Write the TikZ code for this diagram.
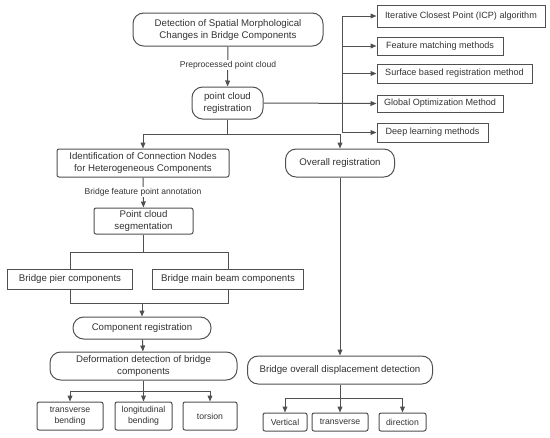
\documentclass[tikz,border=0pt]{standalone}
\usepackage{fontspec}
\setmainfont{Liberation Sans}
\usetikzlibrary{arrows.meta}
\definecolor{lncol}{HTML}{505050}
\definecolor{txcol}{HTML}{333333}
\begin{document}
\begin{tikzpicture}[x=0.75pt,y=-0.75pt,
 every node/.style={text=txcol, font=\fontsize{7.25}{9}\selectfont, inner sep=0pt, align=center},
 bx/.style 2 args={draw=lncol, line width=0.75pt, fill=white, minimum width=#1*0.75pt, minimum height=#2*0.75pt},
 pill/.style={rounded corners=8pt},
 rr/.style={rounded corners=1.5pt},
 sm/.style={font=\fontsize{6.5}{7.9}\selectfont},
 rt/.style={font=\fontsize{6.8}{8}\selectfont},
 lbl/.style={fill=white, font=\fontsize{6.4}{7.5}\selectfont, inner sep=1pt},
 arr/.style={draw=lncol, line width=0.75pt, -{Triangle[length=4.5pt,width=3.6pt]}},
 conn/.style={draw=lncol, line width=0.75pt}]
\useasboundingbox (0,0) rectangle (550,437);

% nodes
\node[bx={190}{33}, pill] (top) at (228,29.5) {Detection of Spatial Morphological\\Changes in Bridge Components};
\node[bx={71}{32}, pill] (pcr) at (227.5,103) {point cloud\\registration};
\node[bx={168}{22}, rt] (icp) at (461,16) {Iterative Closest Point (ICP) algorithm};
\node[bx={126}{18}, rt] (feat) at (440,46) {Feature matching methods};
\node[bx={155}{19}, rt] (surf) at (454.5,73.5) {Surface based registration method};
\node[bx={126}{17}, rt] (glob) at (440,103.5) {Global Optimization Method};
\node[bx={111}{19}, rt] (deep) at (432.5,132.5) {Deep learning methods};
\node[bx={172}{28}, rr] (ident) at (143,163) {Identification of Connection Nodes\\for Heterogeneous Components};
\node[bx={109}{28}, pill] (overall) at (340,163) {Overall registration};
\node[bx={99}{26}, rr] (seg) at (143.5,221) {Point cloud\\segmentation};
\node[bx={125}{20}] (pier) at (70,279) {Bridge pier components};
\node[bx={151}{20}] (beam) at (228,279) {Bridge main beam components};
\node[bx={138}{22}, pill] (compreg) at (142,328) {Component registration};
\node[bx={187}{28}, pill] (deform) at (143.5,366) {Deformation detection of bridge\\components};
\node[bx={66}{28}, rr, sm] (tb) at (70,416) {transverse\\bending};
\node[bx={57}{28}, rr, sm] (lb) at (143.5,416) {longitudinal\\bending};
\node[bx={54}{28}, rr, sm] (tor) at (210,416) {torsion};
\node[bx={185}{28}, pill] (bodd) at (340,370) {Bridge overall displacement detection};
\node[bx={44}{18}, rr, sm] (vert) at (285,422) {Vertical};
\node[bx={56}{18}, rr, sm] (trans) at (340,422) {transverse};
\node[bx={47}{18}, rr, sm] (dir) at (402.5,422) {direction};

% junction coordinates
\coordinate (j1) at (227.5,134);
\coordinate (bt) at (342,16);
\coordinate (bb) at (342,132.5);
\coordinate (j2) at (143.5,252);
\coordinate (j3a) at (70,303);
\coordinate (j3b) at (228,303);
\coordinate (j3) at (142,303);
\coordinate (j4) at (143.5,391);
\coordinate (j5) at (340,398);

% connectors
\draw[arr] (top) -- (pcr);
\node[lbl] (l1) at (228,65) {Preprocessed point cloud};
\draw[conn] (pcr) -- (j1);
\draw[arr] (j1) -| (ident.north);
\draw[arr] (j1) -| (overall.north);
\draw[arr] (pcr.east) -- (glob.west);
\draw[conn] (bt) -- (bb);
\draw[arr] (bt) -- (icp.west);
\draw[arr] (bt |- feat.west) -- (feat.west);
\draw[arr] (bt |- surf.west) -- (surf.west);
\draw[arr] (bb) -- (deep.west);

\draw[arr] (ident) -- (seg);
\node[lbl] (l2) at (143,192) {Bridge feature point annotation};
\draw[conn] (seg) -- (j2);
\draw[conn] (j2) -| (pier.north);
\draw[conn] (j2) -| (beam.north);
\draw[conn] (pier.south) -- (j3a) -- (j3b) -- (beam.south);
\draw[arr] (j3) -- (compreg.north);
\draw[arr] (compreg) -- (deform);
\draw[conn] (deform) -- (j4);
\draw[arr] (j4) -| (tb.north);
\draw[arr] (j4) -- (lb.north);
\draw[arr] (j4) -| (tor.north);

\draw[arr] (overall) -- (bodd);
\draw[conn] (bodd) -- (j5);
\draw[arr] (j5) -| (vert.north);
\draw[arr] (j5) -- (trans.north);
\draw[arr] (j5) -| (dir.north);
\end{tikzpicture}
\end{document}
